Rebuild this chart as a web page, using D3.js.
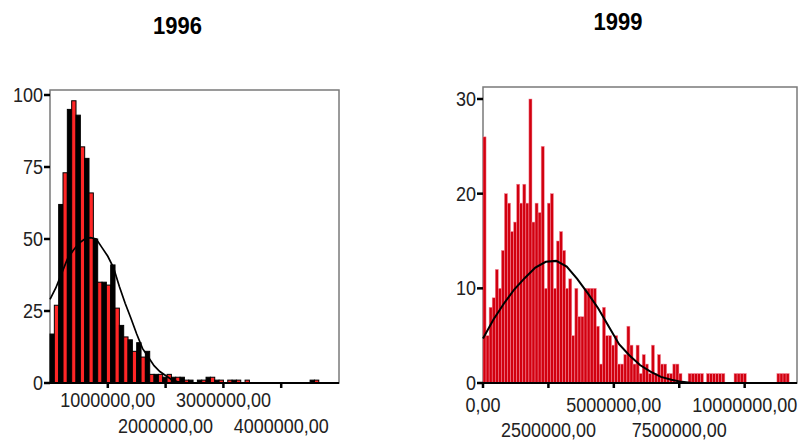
<!DOCTYPE html>
<html><head><meta charset="utf-8">
<script src="https://cdn.jsdelivr.net/npm/d3@7"></script>
<style>body{margin:0;background:#fff}svg{display:block}</style>
</head><body><svg id="c" width="800" height="440"></svg>
<script>
// ---------- data ----------
const titles = ["1996", "1999"];

const binWidth1996 = 75000;
const counts1996 = [17,27,62,73,95,98,93,82,78,66,50,35,35,34,41,26,20,16,15,11,14,9,11,3,3,3,2,3,2,2,2,1,1,0,1,1,2,2,1,1,0,1,1,1,0,1,0,0,0,0,0,0,0,0,0,0,0,0,0,0,1,1];
const curveX1996 = [0,0.1,0.2,0.3,0.4,0.5,0.6,0.7,0.8,0.9,1.0,1.1,1.2,1.3,1.4,1.5,1.6,1.7,1.8,1.9,2.0,2.1,2.2,2.3,2.4,2.5]; // millions
const curveY1996 = [29,33,38,43,46,48.5,50,50.5,50,47,44,40,33.5,27.7,22.5,17,12,9,6,4,2.6,1.2,0.5,0.2,0,0];
const xTicks1996 = [1000000,2000000,3000000,4000000];
const yTicks1996 = [0,25,50,75,100];

const binWidth1999 = 117000;
const counts1999 = [26,5,8,9,12,10,14,20,19,16,17,21,19,21,19,30,17,19,18,25,10,19,20,10,15,16,14,10,11,5,10,7,7,10,10,10,10,6,2,8,5,5,4,5,2,2,3,6,4,2,4,1,3,2,1,4,1,3,2,2,1,1,2,2,1,0,0,
  1,1,1,1,1,0,1,1,1,1,1,1,0,0,0,1,1,1,1,0,0,0,0,0,0,0,0,0,0,1,1,1,1];
const curveX1999 = [0,0.4,0.8,1.2,1.6,2.0,2.4,2.8,3.2,3.6,4.0,4.4,4.8,5.2,5.6,6.0,6.4,6.8,7.2,7.6,8.0]; // millions
const curveY1999 = [4.7,6.7,8.4,9.9,11.1,12.2,12.8,12.9,12.3,11.0,9.5,7.9,6.0,4.1,2.9,1.9,1.2,0.65,0.35,0.12,0];
const xTicks1999 = [0,2500000,5000000,7500000,10000000];
const yTicks1999 = [0,10,20,30];

// ---------- drawing ----------
const svg = d3.select("#c");
const fmt = v => d3.format(".2f")(v).replace(".", ",");
const FONT = "'Liberation Sans', Arial, sans-serif";

function panel(o) {
  const g = svg.append("g");
  const x = d3.scaleLinear().domain(o.xDomain).range([o.left, o.right]);
  const y = d3.scaleLinear().domain(o.yDomain).range([o.bottom, o.yTopTick]);

  // frame
  g.append("rect").attr("x", o.left).attr("y", o.top)
    .attr("width", o.right - o.left).attr("height", o.bottom - o.top)
    .attr("fill", "#fff").attr("stroke", "#7a7a7a").attr("stroke-width", 1.5);

  // bars
  const bw = x(o.binWidth) - x(0);
  g.append("g").selectAll("rect")
    .data(o.counts.map((c, i) => ({c, i})).filter(d => d.c > 0))
    .join("rect")
    .attr("x", d => x(d.i * o.binWidth))
    .attr("width", bw)
    .attr("y", d => y(d.c))
    .attr("height", d => y(0) - y(d.c))
    .attr("fill", d => o.fill(d.i))
    .attr("stroke", o.barStroke)
    .attr("stroke-width", o.barStrokeWidth);

  // normal curve
  const line = d3.line().x(d => x(d[0] * 1e6)).y(d => y(d[1]));
  g.append("path").datum(o.curveX.map((v, i) => [v, o.curveY[i]]))
    .attr("d", line).attr("fill", "none").attr("stroke", "#000").attr("stroke-width", o.curveWidth);

  // bottom axis line
  g.append("line").attr("x1", o.left).attr("x2", o.right)
    .attr("y1", o.bottom).attr("y2", o.bottom)
    .attr("stroke", "#000").attr("stroke-width", 2);

  // y ticks + labels
  o.yTicks.forEach(t => {
    g.append("line").attr("x1", o.left - 6).attr("x2", o.left)
      .attr("y1", y(t)).attr("y2", y(t)).attr("stroke", "#000").attr("stroke-width", 2.5);
    g.append("text").text(t)
      .attr("transform", `translate(${o.left - 7},${y(t) + 7}) scale(1,1.15)`)
      .attr("text-anchor", "end").attr("font-family", FONT).attr("font-size", 18).attr("fill", "#222");
  });

  // x ticks + labels (alternating rows)
  o.xTicks.forEach((t, i) => {
    g.append("line").attr("x1", x(t)).attr("x2", x(t))
      .attr("y1", o.bottom).attr("y2", o.bottom + 5).attr("stroke", "#000").attr("stroke-width", 2.5);
    const by = i % 2 === 0 ? o.row1 : o.row2;
    g.append("text").text(fmt(t))
      .attr("transform", `translate(${x(t)},${by}) scale(1,1.15)`)
      .attr("text-anchor", "middle").attr("font-family", FONT).attr("font-size", 18).attr("fill", "#222");
  });

  // title
  svg.append("text").text(o.title)
    .attr("transform", `translate(${o.titleX},${o.titleY}) scale(1,1.08)`)
    .attr("text-anchor", "middle").attr("font-family", FONT)
    .attr("font-weight", "bold").attr("font-size", 22).attr("fill", "#000");
}

panel({
  title: titles[0], titleX: 177.5, titleY: 34,
  left: 50, right: 339, top: 90, bottom: 383, yTopTick: 95,
  xDomain: [0, 5000000], yDomain: [0, 100],
  binWidth: binWidth1996, counts: counts1996,
  fill: i => (i % 2 === 1 ? "#ff2626" : "#000"),
  barStroke: "#000", barStrokeWidth: 1,
  curveX: curveX1996, curveY: curveY1996, curveWidth: 1.7,
  xTicks: xTicks1996, yTicks: yTicks1996,
  row1: 407, row2: 433
});

panel({
  title: titles[1], titleX: 618, titleY: 30,
  left: 483, right: 797, top: 87, bottom: 383, yTopTick: 99,
  xDomain: [0, 12000000], yDomain: [0, 30],
  binWidth: binWidth1999, counts: counts1999,
  fill: () => "#d2000f",
  barStroke: "#f48a9c", barStrokeWidth: 0.5,
  curveX: curveX1999, curveY: curveY1999, curveWidth: 2,
  xTicks: xTicks1999, yTicks: yTicks1999,
  row1: 412, row2: 437
});
</script></body></html>
